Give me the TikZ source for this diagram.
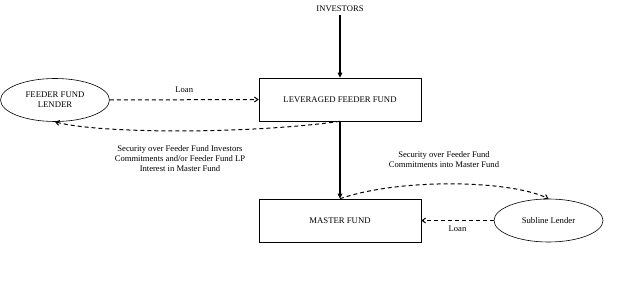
\documentclass[tikz,border=0pt]{standalone}
\usepackage{fontspec}
\setmainfont{Liberation Serif}
\usetikzlibrary{arrows.meta,shapes.geometric}
\begin{document}
\begin{tikzpicture}[x=1pt,y=-1pt,
  lbl/.style={font=\fontsize{8.6}{10}\selectfont},
  fundbox/.style={draw,line width=0.6pt,minimum width=162pt,minimum height=43pt,inner sep=0pt,font=\fontsize{8.7}{10}\selectfont},
  lender/.style={draw,ellipse,line width=0.6pt,minimum width=109pt,minimum height=43pt,inner sep=0pt,align=center,font=\fontsize{8.7}{10}\selectfont},
  mainarrow/.style={line width=1.6pt,-{Triangle[length=5pt,width=4.5pt]}},
  dasharrow/.style={line width=1pt,dash pattern=on 4pt off 3pt,-{Straight Barb[length=3.5pt,width=5pt]}}
]
\useasboundingbox (0,0) rectangle (624,286);
\node[lbl] (inv) at (340,9) {INVESTORS};
\node[fundbox] (lff) at (340,99.5) {LEVERAGED FEEDER FUND};
\node[fundbox] (mf) at (340,220.5) {MASTER FUND};
\node[lender] (ffl) at (55,100) {FEEDER FUND\\LENDER};
\node[lender] (sl) at (548.5,220.5) {Subline Lender};
\draw[mainarrow] (inv.south) -- (lff.north);
\draw[mainarrow] (lff.south) -- (mf.north);
\draw[dasharrow] (ffl.east) -- node[lbl,above=3pt] (loan1) {Loan} (lff.west);
\draw[dasharrow] (sl.west) -- node[lbl,below=2pt] (loan2) {Loan} (mf.east);
\draw[dasharrow] (lff.south) .. controls (250,134) and (100,134) .. (ffl.south);
\draw[dasharrow] (mf.north) .. controls (400,178) and (510,180) .. (sl.north);
\node[lbl,align=center] (sec1) at (180,159) {Security over Feeder Fund Investors\\Commitments and/or Feeder Fund LP\\Interest in Master Fund};
\node[lbl,align=center] (sec2) at (444,159.5) {Security over Feeder Fund\\Commitments into Master Fund};
\end{tikzpicture}
\end{document}
